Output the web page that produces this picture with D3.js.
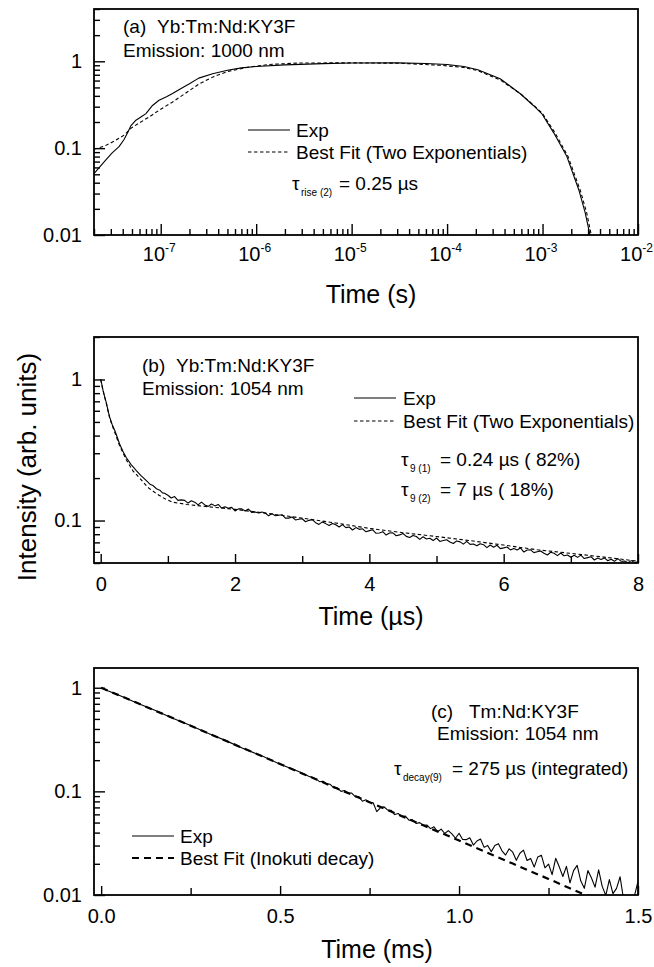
<!DOCTYPE html>
<html><head><meta charset="utf-8">
<script src="https://cdn.jsdelivr.net/npm/d3@7"></script>
<style>
body{margin:0;background:#fff}
svg{display:block}
text{font-family:"Liberation Sans",Arial,Helvetica,sans-serif;fill:#000}
</style>
</head><body><script>
// ---------------- DATA ----------------
// Panel (a): Yb:Tm:Nd:KY3F, emission 1000 nm  [time (s), intensity]
const aExp = [[2.0e-8,0.051],[2.3e-8,0.061],[2.65e-8,0.073],[3.1e-8,0.088],[3.66e-8,0.104],[4.1e-8,0.124],[4.47e-8,0.148],[4.86e-8,0.18],[5.5e-8,0.21],[6.2e-8,0.228],[7.0e-8,0.25],[8.2e-8,0.31],[9.6e-8,0.356],[1.15e-7,0.39],[1.33e-7,0.425],[1.6e-7,0.48],[2.0e-7,0.55],[2.5e-7,0.64],[3.5e-7,0.72],[5e-7,0.79],[7e-7,0.84],[1e-6,0.87],[2e-6,0.91],[5e-6,0.94],[1e-5,0.955],[3e-5,0.96],[6e-5,0.945],[1e-4,0.92],[1.5e-4,0.87],[2.1e-4,0.8],[3.6e-4,0.63],[5.9e-4,0.42],[8e-4,0.31],[9.8e-4,0.25],[1.31e-3,0.15],[1.8e-3,0.08],[2.4e-3,0.033],[2.8e-3,0.018],[3.15e-3,0.0098]];
const aFit = [[2e-8,0.097],[2.55e-8,0.105],[3.24e-8,0.12],[4.13e-8,0.141],[4.9e-8,0.17],[5.9e-8,0.194],[7.5e-8,0.227],[9.6e-8,0.273],[1.32e-7,0.338],[2e-7,0.46],[2.53e-7,0.55],[3.63e-7,0.67],[5.2e-7,0.77],[8.5e-7,0.86],[1.37e-6,0.92],[2.8e-6,0.955],[9.5e-6,0.96],[3.2e-5,0.95],[8.4e-5,0.9],[1.5e-4,0.85],[2.1e-4,0.78],[3.6e-4,0.61],[5.9e-4,0.42],[8e-4,0.315],[1e-3,0.25],[1.35e-3,0.15],[1.85e-3,0.08],[2.5e-3,0.032],[2.9e-3,0.018],[3.25e-3,0.0098]];
const aYTicks = [0.01, 0.1, 1];
const aYLabels = ["0.01", "0.1", "1"];
const aXTicks = [1e-7, 1e-6, 1e-5, 1e-4, 1e-3, 1e-2];
const aXExp = ["-7", "-6", "-5", "-4", "-3", "-2"];

// Panel (b): Yb:Tm:Nd:KY3F, emission 1054 nm  [time (µs), intensity]
const bExp = [[0,1.0],[0.015,0.93],[0.034,0.84],[0.06,0.75],[0.085,0.68],[0.11,0.6],[0.134,0.54],[0.17,0.48],[0.21,0.435],[0.25,0.385],[0.28,0.35],[0.33,0.31],[0.38,0.28],[0.45,0.25],[0.53,0.226],[0.6,0.208],[0.68,0.192],[0.74,0.18],[0.78,0.177],[0.83,0.168],[0.88,0.164],[0.92,0.157],[0.95,0.156],
[1.00,0.151],[1.05,0.1445],[1.10,0.148],[1.15,0.139],[1.20,0.140],[1.25,0.139],[1.30,0.133],[1.35,0.138],[1.40,0.135],[1.45,0.129],[1.50,0.135],[1.55,0.129],[1.60,0.126],[1.65,0.131],[1.70,0.127],[1.75,0.130],[1.80,0.1225],[1.85,0.125],[1.90,0.122],[1.95,0.124],
[2.00,0.117],[2.05,0.121],[2.10,0.121],[2.15,0.117],[2.20,0.1205],[2.25,0.114],[2.30,0.115],[2.35,0.113],[2.40,0.115],[2.45,0.113],[2.50,0.108],[2.55,0.112],[2.60,0.108],[2.65,0.109],[2.70,0.110],[2.75,0.104],[2.80,0.104],[2.85,0.106],[2.90,0.101],[2.95,0.102],
[3.00,0.103],[3.05,0.098],[3.10,0.1003],[3.15,0.1015],[3.20,0.0966],[3.25,0.0939],[3.30,0.0978],[3.35,0.0951],[3.40,0.0923],[3.45,0.0953],[3.50,0.0934],[3.55,0.0899],[3.60,0.0935],[3.65,0.0891],[3.70,0.0900],[3.75,0.0857],[3.80,0.0891],[3.85,0.0866],[3.90,0.0874],[3.95,0.0832],
[4.00,0.0848],[4.05,0.0860],[4.10,0.0812],[4.15,0.0816],[4.20,0.0834],[4.25,0.0789],[4.30,0.0815],[4.35,0.0818],[4.40,0.0780],[4.45,0.0791],[4.50,0.0809],[4.55,0.0772],[4.60,0.0759],[4.65,0.0784],[4.70,0.0771],[4.75,0.0735],[4.80,0.0767],[4.85,0.0740],[4.90,0.0748],[4.95,0.0721],
[5.00,0.0752],[5.05,0.0711],[5.10,0.0721],[5.15,0.0731],[5.20,0.0705],[5.25,0.0687],[5.30,0.0717],[5.35,0.0706],[5.40,0.0680],[5.45,0.0711],[5.50,0.0678],[5.55,0.0681],[5.60,0.0662],[5.65,0.0685],[5.70,0.0674],[5.75,0.0643],[5.80,0.0671],[5.85,0.0647],[5.90,0.0668],[5.95,0.0632],
[6.00,0.0640],[6.05,0.0649],[6.10,0.0619],[6.15,0.0634],[6.20,0.0618],[6.25,0.0639],[6.30,0.0598],[6.35,0.0618],[6.40,0.0620],[6.45,0.0592],[6.50,0.0600],[6.55,0.0608],[6.60,0.0586],[6.65,0.0570],[6.70,0.0596],[6.75,0.0586],[6.80,0.0564],[6.85,0.0589],[6.90,0.0562],[6.95,0.0570],
[7.00,0.0549],[7.05,0.0568],[7.10,0.0548],[7.15,0.0569],[7.20,0.0538],[7.25,0.0546],[7.30,0.0554],[7.35,0.0525],[7.40,0.0543],[7.45,0.0530],[7.50,0.0543],[7.55,0.0519],[7.60,0.0532],[7.65,0.0514],[7.70,0.0537],[7.75,0.0514],[7.80,0.0516],[7.85,0.0503],[7.90,0.0520],[7.95,0.0503],[8.00,0.0510]];
const bFit = [[0,1.0],[0.03,0.85],[0.085,0.67],[0.134,0.53],[0.21,0.42],[0.28,0.34],[0.38,0.27],[0.48,0.225],[0.58,0.2],[0.7,0.172],[0.83,0.155],[0.95,0.143],[1.07,0.135],[1.28,0.13],[1.48,0.127],[2,0.12],[2.5,0.112],[3,0.104],[3.5,0.096],[4,0.088],[4.5,0.082],[5,0.077],[5.5,0.072],[6,0.067],[6.5,0.062],[7,0.0585],[7.5,0.055],[8,0.0515]];
const bXTicks = [0, 2, 4, 6, 8];
const bXMinor = [1, 3, 5, 7];
const bYTicks = [0.1, 1];
const bYLabels = ["0.1", "1"];

// Panel (c): Tm:Nd:KY3F, emission 1054 nm  [time (ms), intensity]
const cExp = [[0,1.0],[0.02,0.93],[0.05,0.848],[0.1,0.713],[0.15,0.605],[0.2,0.508],[0.25,0.432],[0.3,0.361],[0.35,0.307],[0.4,0.257],[0.45,0.219],[0.5,0.183],[0.55,0.156],[0.58,0.14],
[0.60,0.132],[0.61,0.124],[0.62,0.125],[0.63,0.118],[0.64,0.117],[0.65,0.108],[0.66,0.108],[0.67,0.100],[0.68,0.102],[0.69,0.0964],[0.70,0.0964],[0.71,0.0889],[0.72,0.0889],[0.73,0.0803],[0.74,0.0828],[0.75,0.0785],[0.76,0.0777],[0.77,0.0638],[0.78,0.0694],[0.79,0.0710],
[0.80,0.0662],[0.81,0.0658],[0.82,0.0597],[0.83,0.0612],[0.84,0.0571],[0.85,0.0578],[0.86,0.0527],[0.87,0.0531],[0.88,0.0490],[0.89,0.0499],[0.90,0.0471],[0.91,0.0474],[0.92,0.0437],[0.93,0.0455],[0.94,0.0408],
[0.95,0.0432],[0.96,0.0392],[0.97,0.0418],[0.98,0.0389],[0.99,0.0353],[1.00,0.0394],[1.01,0.0343],[1.02,0.0342],[1.03,0.0357],[1.04,0.0303],[1.05,0.0332],[1.06,0.0347],[1.07,0.0288],[1.08,0.0301],[1.09,0.0262],[1.10,0.0300],[1.11,0.0313],[1.12,0.0267],[1.13,0.0243],[1.14,0.0279],
[1.15,0.0259],[1.16,0.0216],[1.17,0.0253],[1.18,0.0271],[1.19,0.0215],[1.20,0.0225],[1.21,0.0186],[1.22,0.0233],[1.23,0.0242],[1.24,0.0183],[1.25,0.0199],[1.26,0.0157],[1.27,0.0226],[1.28,0.0187],[1.29,0.0151],[1.30,0.0189],[1.31,0.0131],[1.32,0.0172],[1.33,0.0193],[1.34,0.0137],
[1.35,0.0116],[1.36,0.0172],[1.37,0.0146],[1.38,0.0119],[1.39,0.0175],[1.40,0.0121],[1.41,0.0099],[1.42,0.0141],[1.43,0.0103],[1.44,0.0116],[1.45,0.0150],[1.46,0.0089],[1.47,0.0095],[1.48,0.0092],[1.49,0.0098],[1.50,0.0135]];
const cFit = [[0,1.0],[0.05,0.845],[0.1,0.715],[0.15,0.603],[0.2,0.51],[0.25,0.43],[0.3,0.363],[0.35,0.306],[0.4,0.258],[0.45,0.218],[0.5,0.184],[0.55,0.155],[0.6,0.131],[0.65,0.11],[0.7,0.093],[0.75,0.0785],[0.8,0.0662],[0.85,0.0558],[0.9,0.047],[0.95,0.0397],[1.0,0.0335],[1.05,0.0282],[1.1,0.0238],[1.15,0.0201],[1.2,0.0169],[1.25,0.0143],[1.3,0.012],[1.35,0.0101],[1.37,0.0095]];
const cXTicks = [0, 0.5, 1.0, 1.5];
const cXLabels = ["0.0", "0.5", "1.0", "1.5"];
const cXMinor = [0.25, 0.75, 1.25];
const cYTicks = [0.01, 0.1, 1];
const cYLabels = ["0.01", "0.1", "1"];

// ---------------- DRAWING ----------------
const FONT = '"Liberation Sans", Arial, Helvetica, sans-serif';
const L = 94, R = 638;
const svg = d3.select("body").append("svg").attr("width", 654).attr("height", 967);

function isMajor(d, majors) {
  return majors.some(m => Math.abs(m - d) <= Math.abs(m) * 1e-6 + 1e-12);
}

function styleAxis(s, fs) {
  s.select(".domain").remove();
  s.attr("font-family", FONT).attr("font-size", fs);
  s.selectAll("line").attr("stroke", "#000").attr("stroke-width", 1.4);
}

function drawPanel(p) {
  const x = (p.xLog ? d3.scaleLog() : d3.scaleLinear()).domain(p.xDomain).range([L, R]);
  const y = d3.scaleLog().domain(p.yDomain).range([p.bottom, p.top]);
  const g = svg.append("g");

  const cid = "clip-" + p.id;
  svg.append("defs").append("clipPath").attr("id", cid)
    .append("rect").attr("x", L).attr("y", p.top).attr("width", R - L).attr("height", p.bottom - p.top);

  // y minor ticks
  const yMinor = y.ticks().filter(d => !isMajor(d, p.yMajor));
  g.append("g").attr("transform", `translate(${L},0)`)
    .call(d3.axisLeft(y).tickValues(yMinor).tickSize(-6).tickFormat(""))
    .call(s => styleAxis(s, 20));
  // y major ticks
  g.append("g").attr("transform", `translate(${L},0)`)
    .call(d3.axisLeft(y).tickValues(p.yMajor).tickSize(-11).tickPadding(12).tickFormat((d, i) => p.yLabels[i]))
    .call(s => styleAxis(s, 20));

  // x minor ticks
  const xMinor = p.xLog ? x.ticks().filter(d => !isMajor(d, p.xMajor)) : p.xMinor;
  g.append("g").attr("transform", `translate(0,${p.bottom})`)
    .call(d3.axisBottom(x).tickValues(xMinor).tickSize(p.xLog ? -6 : -7).tickFormat(""))
    .call(s => styleAxis(s, 20));
  // x major ticks
  const xa = g.append("g").attr("transform", `translate(0,${p.bottom})`)
    .call(d3.axisBottom(x).tickValues(p.xMajor).tickSize(p.xLog ? -11 : -9).tickPadding(p.xLog ? 12 : 14)
      .tickFormat((d, i) => p.xLog ? "" : p.xLabels[i]))
    .call(s => styleAxis(s, 20));
  if (p.xLog) {
    xa.selectAll(".tick text").each(function (d, i) {
      const t = d3.select(this);
      t.text(null).attr("dx", -2);
      t.append("tspan").text("10");
      t.append("tspan").attr("font-size", 12).attr("dy", "-0.8em").text(p.xExp[i]);
    });
  }

  // curves
  const line = d3.line().x(d => x(d[0])).y(d => y(d[1]));
  const cg = g.append("g").attr("clip-path", `url(#${cid})`);
  cg.append("path").datum(p.fit).attr("d", line).attr("fill", "none").attr("stroke", "#000")
    .attr("stroke-width", p.fitWidth).attr("stroke-dasharray", p.fitDash);
  cg.append("path").datum(p.exp).attr("d", line).attr("fill", "none").attr("stroke", "#000")
    .attr("stroke-width", 1.1).attr("stroke-linejoin", "round");

  // frame
  g.append("rect").attr("x", L).attr("y", p.top).attr("width", R - L).attr("height", p.bottom - p.top)
    .attr("fill", "none").attr("stroke", "#000").attr("stroke-width", 1.8);

  // legend
  const lg = p.legend;
  g.append("line").attr("x1", lg.x1).attr("x2", lg.x2).attr("y1", lg.y1).attr("y2", lg.y1)
    .attr("stroke", "#000").attr("stroke-width", 1.1);
  g.append("line").attr("x1", lg.x1).attr("x2", lg.x2).attr("y1", lg.y2).attr("y2", lg.y2)
    .attr("stroke", "#000").attr("stroke-width", p.fitWidth).attr("stroke-dasharray", p.fitDash);
  g.append("text").attr("x", lg.tx).attr("y", lg.y1 + 7).attr("font-size", 19).text(lg.labels[0]);
  g.append("text").attr("x", lg.tx).attr("y", lg.y2 + 7).attr("font-size", 19).text(lg.labels[1]);

  // annotations
  p.notes.forEach(n => {
    g.append("text").attr("x", n.x).attr("y", n.y).attr("font-size", n.fs || 19).text(n.t);
  });
  // tau expressions
  p.taus.forEach(tk => {
    g.append("text").attr("x", tk.x).attr("y", tk.y).attr("font-size", 19).text("τ");
    g.append("text").attr("x", tk.x + 9).attr("y", tk.y + 6).attr("font-size", 10).text(tk.sub);
    g.append("text").attr("x", tk.rx).attr("y", tk.y).attr("font-size", 19).text(tk.rest);
  });

  // x title
  g.append("text").attr("x", p.titleX).attr("y", p.titleY).attr("text-anchor", "middle")
    .attr("font-size", 25).text(p.title);
}

drawPanel({
  id: "a", xLog: true, xDomain: [2e-8, 1e-2], yDomain: [0.01, 4], top: 9, bottom: 235,
  xMajor: aXTicks, xExp: aXExp, yMajor: aYTicks, yLabels: aYLabels,
  exp: aExp, fit: aFit, fitDash: "3.5,2.5", fitWidth: 1.1,
  legend: { x1: 248, x2: 290, tx: 296, y1: 130, y2: 152, labels: ["Exp", "Best Fit (Two Exponentials)"] },
  notes: [{ x: 123, y: 33, t: "(a)" }, { x: 157, y: 33, t: "Yb:Tm:Nd:KY3F" }, { x: 123, y: 57, t: "Emission: 1000 nm" }],
  taus: [{ x: 292, y: 190, sub: "rise (2)", rx: 339, rest: "= 0.25 µs" }],
  title: "Time (s)", titleX: 371, titleY: 303
});

drawPanel({
  id: "b", xLog: false, xDomain: [-0.1, 8], yDomain: [0.05, 2], top: 337, bottom: 563,
  xMajor: bXTicks, xLabels: bXTicks.map(String), xMinor: bXMinor, yMajor: bYTicks, yLabels: bYLabels,
  exp: bExp, fit: bFit, fitDash: "3.5,2.5", fitWidth: 1.1,
  legend: { x1: 354, x2: 396, tx: 403, y1: 398, y2: 421, labels: ["Exp", "Best Fit (Two Exponentials)"] },
  notes: [{ x: 142, y: 372, t: "(b)" }, { x: 176, y: 372, t: "Yb:Tm:Nd:KY3F" }, { x: 142, y: 395, t: "Emission: 1054 nm" }],
  taus: [{ x: 401, y: 466, sub: "9 (1)", rx: 440, rest: "= 0.24 µs ( 82%)" },
         { x: 401, y: 496, sub: "9 (2)", rx: 440, rest: "= 7 µs ( 18%)" }],
  title: "Time (µs)", titleX: 371, titleY: 625
});

drawPanel({
  id: "c", xLog: false, xDomain: [-0.02, 1.5], yDomain: [0.01, 1.55], top: 668, bottom: 895,
  xMajor: cXTicks, xLabels: cXLabels, xMinor: cXMinor, yMajor: cYTicks, yLabels: cYLabels,
  exp: cExp, fit: cFit, fitDash: "7,5", fitWidth: 2.2,
  legend: { x1: 132, x2: 174, tx: 180, y1: 836, y2: 858, labels: ["Exp", "Best Fit (Inokuti decay)"] },
  notes: [{ x: 431, y: 718, t: "(c)" }, { x: 469, y: 718, t: "Tm:Nd:KY3F" }, { x: 437, y: 740, t: "Emission: 1054 nm" }],
  taus: [{ x: 394, y: 775, sub: "decay(9)", rx: 452, rest: "= 275 µs (integrated)" }],
  title: "Time (ms)", titleX: 377, titleY: 958
});

// shared y title
svg.append("text").attr("transform", "translate(36,467) rotate(-90)").attr("text-anchor", "middle")
  .attr("font-size", 26).text("Intensity (arb. units)");
</script></body></html>
